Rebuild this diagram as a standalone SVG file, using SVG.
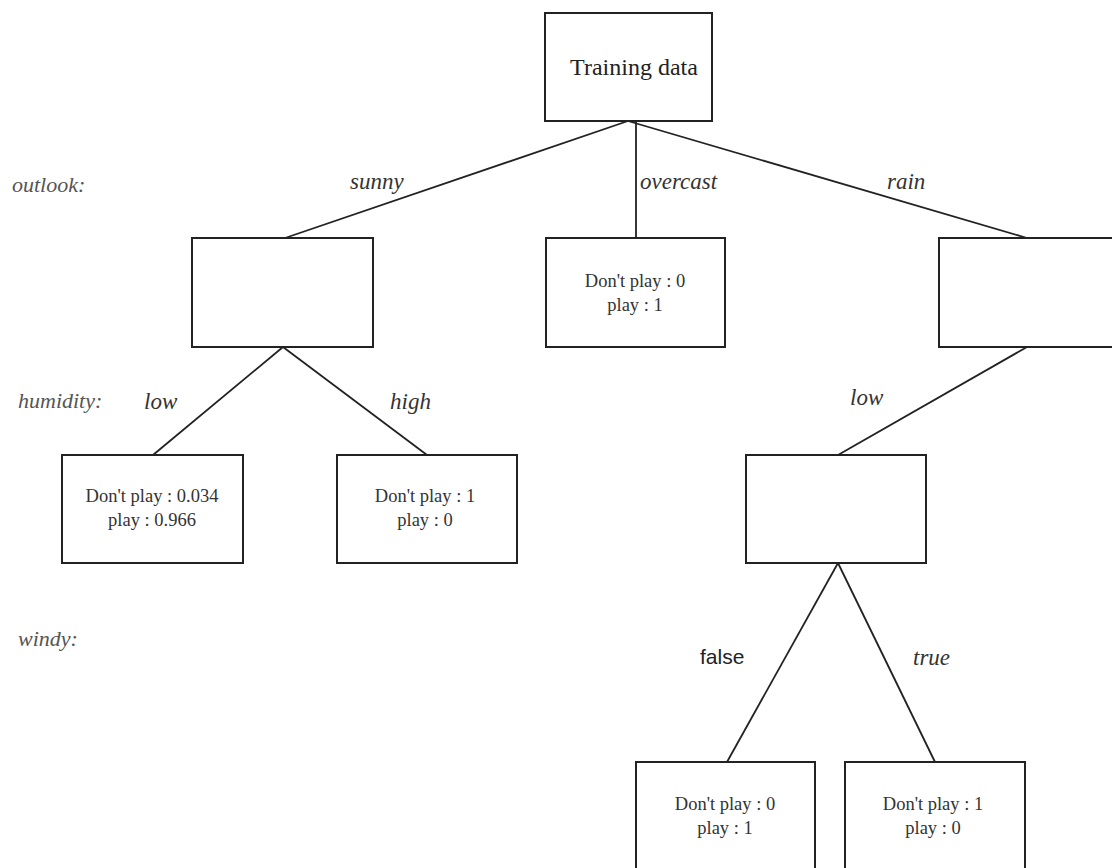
<svg xmlns="http://www.w3.org/2000/svg" width="1112" height="868" viewBox="0 0 1112 868">
<style>
.box{fill:#fff;stroke:#222;stroke-width:2}
.edge{stroke:#222;stroke-width:1.8;fill:none}
.lbl{font-family:"Liberation Serif",serif;font-style:italic;font-size:23px;fill:#333}
.attr{font-family:"Liberation Serif",serif;font-style:italic;font-size:22px;fill:#555}
.val{font-family:"Liberation Serif",serif;font-size:18.5px;fill:#333;text-anchor:middle}
.root{font-family:"Liberation Serif",serif;font-size:24px;fill:#222;text-anchor:middle}
.sans{font-family:"Liberation Sans",sans-serif;font-size:21px;fill:#222}
</style>
<rect width="1112" height="868" fill="#fff"/>
<g id="connectors">
<line class="edge" x1="628" y1="121" x2="285" y2="238"/>
<line class="edge" x1="636" y1="121" x2="636" y2="238"/>
<line class="edge" x1="628" y1="121" x2="1027" y2="238"/>
<line class="edge" x1="283" y1="347" x2="153" y2="455"/>
<line class="edge" x1="283" y1="347" x2="427" y2="455"/>
<line class="edge" x1="1027" y1="347" x2="838" y2="455"/>
<line class="edge" x1="838" y1="563" x2="727" y2="762"/>
<line class="edge" x1="838" y1="563" x2="935" y2="762"/>
<text class="lbl" x="350" y="189">sunny</text>
<text class="lbl" x="640" y="189">overcast</text>
<text class="lbl" x="887" y="189">rain</text>
<text class="lbl" x="144" y="409">low</text>
<text class="lbl" x="390" y="409">high</text>
<text class="lbl" x="850" y="405">low</text>
<text class="sans" x="700" y="664">false</text>
<text class="lbl" x="913" y="665">true</text>
</g>
<g id="attributes">
<text class="attr" x="12" y="192">outlook:</text>
<text class="attr" x="18" y="408">humidity:</text>
<text class="attr" x="18" y="646">windy:</text>
</g>
<g id="root">
<rect class="box" x="545" y="13" width="167" height="108"/>
<text class="root" x="634" y="75">Training data</text>
</g>
<g id="sunny">
<rect class="box" x="192" y="238" width="181" height="109"/>
</g>
<g id="overcast">
<rect class="box" x="546" y="238" width="179" height="109"/>
<text class="val" x="635" y="287">Don't play : 0</text>
<text class="val" x="635" y="311">play : 1</text>
</g>
<g id="rain">
<rect class="box" x="939" y="238" width="190" height="109"/>
</g>
<g id="sunny-low">
<rect class="box" x="62" y="455" width="181" height="108"/>
<text class="val" x="152" y="502">Don't play : 0.034</text>
<text class="val" x="152" y="526">play : 0.966</text>
</g>
<g id="sunny-high">
<rect class="box" x="337" y="455" width="180" height="108"/>
<text class="val" x="425" y="502">Don't play : 1</text>
<text class="val" x="425" y="526">play : 0</text>
</g>
<g id="rain-low">
<rect class="box" x="746" y="455" width="180" height="108"/>
</g>
<g id="windy-false">
<rect class="box" x="636" y="762" width="179" height="120"/>
<text class="val" x="725" y="810">Don't play : 0</text>
<text class="val" x="725" y="834">play : 1</text>
</g>
<g id="windy-true">
<rect class="box" x="845" y="762" width="180" height="120"/>
<text class="val" x="933" y="810">Don't play : 1</text>
<text class="val" x="933" y="834">play : 0</text>
</g>
</svg>
